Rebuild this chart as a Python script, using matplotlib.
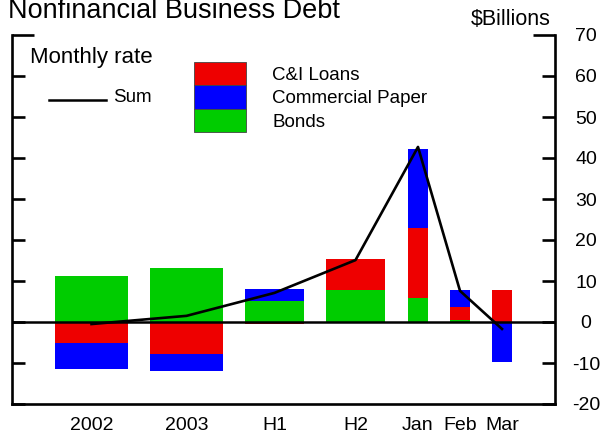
import numpy as np
from matplotlib import pyplot as plt
import matplotlib
from matplotlib.patches import Rectangle

matplotlib.rcParams['font.family'] = ['Liberation Sans', 'DejaVu Sans']
matplotlib.rcParams['axes.unicode_minus'] = False

# data, $ billions, monthly rate
periods = ['2002', '2003', 'H1', 'H2', 'Jan', 'Feb', 'Mar']
cni_loans = [-5.1, -7.7, -0.5, 7.6, 17.0, 3.1, 7.8]
comm_paper = [-6.3, -4.2, 2.9, 0.0, 19.3, 4.2, -9.7]
bonds = [11.2, 13.2, 5.1, 7.8, 5.9, 0.5, 0.0]
total = [-0.5, 1.5, 7.1, 15.1, 42.7, 7.6, -1.7]
yticks = [-20, -10, 0, 10, 20, 30, 40, 50, 60, 70]

# layout (pixel-ish units along the axis)
xpos = np.array([79.5, 174.5, 262.5, 343.5, 406, 448, 490])
widths = np.array([73, 73, 59, 59, 20, 20, 20])

RED = '#ee0000'
BLUE = '#0000ff'
GREEN = '#00cc00'

W, H = 605, 441
fig = plt.figure(figsize=(W / 100, H / 100), dpi=100)
ax = fig.add_axes([12 / W, 1 - 404 / H, 543 / W, 369 / H])

def stack(series_list, colors):
    pos = np.zeros(len(periods))
    neg = np.zeros(len(periods))
    for vals, c in zip(series_list, colors):
        vals = np.array(vals)
        bottom = np.where(vals >= 0, pos, neg)
        ax.bar(xpos, vals, width=widths, bottom=bottom, color=c,
               linewidth=0, zorder=2)
        pos = pos + np.clip(vals, 0, None)
        neg = neg + np.clip(vals, None, 0)

# positive stack: bonds, C&I, CP ; negative: C&I then CP
stack([bonds, cni_loans, comm_paper], [GREEN, RED, BLUE])

ax.axhline(0, color='black', lw=1.8, zorder=3)
ax.plot(xpos, total, color='black', lw=1.9, zorder=4)

ax.set_xlim(0, 543)
ax.set_ylim(-20, 70)
ax.set_xticks(xpos)
ax.set_xticklabels(periods)
ax.set_yticks(yticks)

ax.spines['top'].set_visible(False)
for s in ['left', 'right', 'bottom']:
    ax.spines[s].set_linewidth(1.9)

ax.tick_params(axis='x', length=0, labelsize=14, pad=9)
ax.tick_params(axis='y', direction='in', length=9.5, width=1.9,
               left=True, right=True, labelleft=False, labelright=True,
               labelsize=14, pad=22.3)
for t in ax.yaxis.get_major_ticks():
    t.label2.set_horizontalalignment('center')
# longer stubs at the top
top_tick = ax.yaxis.get_major_ticks()[-1]
top_tick.tick1line.set_markersize(16)
top_tick.tick2line.set_markersize(16)

# texts
fig.text(8 / W, 1 - 17.5 / H, 'Nonfinancial Business Debt', fontsize=19.5,
         va='baseline', ha='left')
fig.text(471 / W, 1 - 25 / H, '$Billions', fontsize=15.5, va='baseline', ha='left')
fig.text(30 / W, 1 - 63 / H, 'Monthly rate', fontsize=16, va='baseline', ha='left')

# Sum legend
fig.add_artist(plt.Line2D([49 / W, 106 / W], [1 - 99.5 / H, 1 - 99.5 / H],
                          color='black', lw=1.8, transform=fig.transFigure))
fig.text(113 / W, 1 - 101.5 / H, 'Sum', fontsize=13.5, va='baseline', ha='left')

# bar legend
legend_items = [('C&I Loans', RED), ('Commercial Paper', BLUE), ('Bonds', GREEN)]
top = 61.7
for i, (lab, c) in enumerate(legend_items):
    y0 = top + i * 23.5
    fig.add_artist(Rectangle((194 / W, 1 - (y0 + 23.5) / H), 52 / W, 23.5 / H,
                             facecolor=c, edgecolor='#444444', lw=0.6,
                             transform=fig.transFigure))
    fig.text(272 / W, 1 - (y0 + 11.75 + 6.5) / H, lab, fontsize=13.5,
             va='baseline', ha='left')

plt.savefig('out.png', dpi=100)
